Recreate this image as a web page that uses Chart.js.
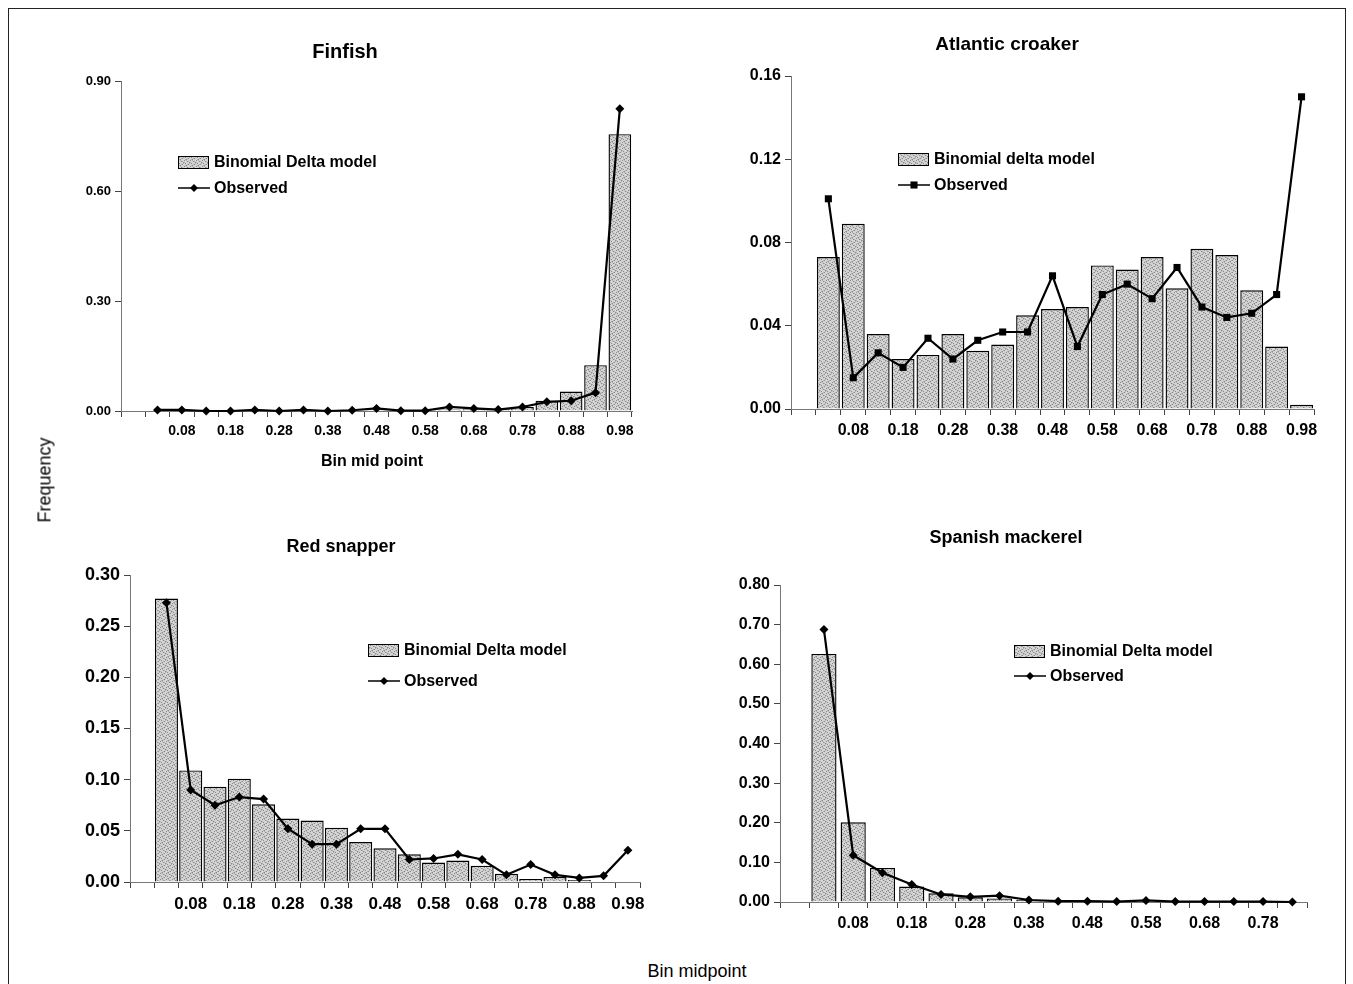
<!DOCTYPE html>
<html>
<head>
<meta charset="utf-8">
<title>Binomial delta model vs observed</title>
<script src="https://cdn.jsdelivr.net/npm/chart.js@4.4.1/dist/chart.umd.min.js"></script>
<style>
  body { margin: 0; background: #fff; }
  #page { position: relative; width: 1353px; height: 984px; overflow: hidden; background: #fff;
          font-family: "Liberation Sans", Arial, sans-serif; }
  #frame { position: absolute; left: 8px; top: 8px; width: 1336px; height: 1000px; border: 1px solid #222; }
  canvas { position: absolute; }
  .lbl { position: absolute; font-size: 18px; color: #000; white-space: nowrap; }
  #ylab { left: 45px; top: 480px; transform: translate(-50%, -50%) rotate(-90deg); }
  #xlab { left: 697px; top: 971px; transform: translate(-50%, -50%); }
</style>
</head>
<body>
<div id="page">
  <div id="frame"></div>
  <canvas id="c1"></canvas>
  <canvas id="c2"></canvas>
  <canvas id="c3"></canvas>
  <canvas id="c4"></canvas>
  <div class="lbl" id="ylab">Frequency</div>
  <div class="lbl" id="xlab">Bin midpoint</div>
</div>
<script>
// bin mid points (20 bins, the mackerel panel only goes to 0.83)
const bins = ["0.03", "0.08", "0.13", "0.18", "0.23", "0.28", "0.33", "0.38", "0.43", "0.48",
              "0.53", "0.58", "0.63", "0.68", "0.73", "0.78", "0.83", "0.88", "0.93", "0.98"];
const mackerelBins = bins.slice(0, 17);
const tickLabels = ["0.08", "0.18", "0.28", "0.38", "0.48", "0.58", "0.68", "0.78", "0.88", "0.98"];
const mackerelTickLabels = ["0.08", "0.18", "0.28", "0.38", "0.48", "0.58", "0.68", "0.78"];

// Finfish
const finfishModel = [0, 0, 0, 0, 0, 0, 0, 0, 0.001, 0.002,
                      0.001, 0.002, 0.004, 0.005, 0.005, 0.011, 0.028, 0.053, 0.125, 0.755];
const finfishObserved = [0.003, 0.003, 0.000, 0.000, 0.003, 0.000, 0.003, 0.000, 0.002, 0.007,
                         0.001, 0.001, 0.011, 0.007, 0.004, 0.011, 0.025, 0.028, 0.050, 0.824];

// Atlantic croaker
const croakerModel = [0.073, 0.089, 0.036, 0.024, 0.026, 0.036, 0.028, 0.031, 0.045, 0.048,
                      0.049, 0.069, 0.067, 0.073, 0.058, 0.077, 0.074, 0.057, 0.030, 0.002];
const croakerObserved = [0.101, 0.015, 0.027, 0.020, 0.034, 0.024, 0.033, 0.037, 0.037, 0.064,
                         0.030, 0.055, 0.060, 0.053, 0.068, 0.049, 0.044, 0.046, 0.055, 0.150];

// Red snapper
const snapperModel = [0.277, 0.109, 0.093, 0.101, 0.076, 0.062, 0.060, 0.053, 0.039, 0.033,
                      0.027, 0.019, 0.021, 0.016, 0.008, 0.003, 0.005, 0.002, 0, 0];
const snapperObserved = [0.273, 0.090, 0.075, 0.083, 0.081, 0.052, 0.037, 0.037, 0.052, 0.052,
                         0.022, 0.023, 0.027, 0.022, 0.007, 0.017, 0.007, 0.004, 0.006, 0.031];

// Spanish mackerel
const mackerelModel = [0.626, 0.201, 0.086, 0.039, 0.022, 0.012, 0.009, 0.005, 0.002, 0.001,
                       0.001, 0.003, 0.001, 0.001, 0.001, 0.001, 0];
const mackerelObserved = [0.688, 0.118, 0.074, 0.044, 0.019, 0.013, 0.016, 0.005, 0.002, 0.002,
                          0.001, 0.004, 0.001, 0.001, 0.001, 0.001, 0];

const FONT = '"Liberation Sans", Arial, sans-serif';

// grey stippled fill like the scanned bars
function stipple() {
  const c = document.createElement("canvas");
  c.width = 6; c.height = 6;
  const g = c.getContext("2d");
  g.fillStyle = "#d4d4d4";
  g.fillRect(0, 0, 6, 6);
  g.fillStyle = "#8a8a8a";
  [[0, 0], [3, 1], [1, 3], [4, 4], [2, 5], [5, 2]].forEach(p => g.fillRect(p[0], p[1], 1, 1));
  g.fillStyle = "#b0b0b0";
  [[2, 0], [5, 3], [0, 2], [3, 4], [1, 5], [4, 1]].forEach(p => g.fillRect(p[0], p[1], 1, 1));
  return g.createPattern(c, "repeat");
}
const barFill = stipple();

function drawMarker(ctx, style, x, y, r) {
  ctx.beginPath();
  if (style === "rect") {
    const s = r * Math.SQRT1_2;
    ctx.rect(x - s, y - s, 2 * s, 2 * s);
  } else {
    ctx.moveTo(x, y - r); ctx.lineTo(x + r, y); ctx.lineTo(x, y + r); ctx.lineTo(x - r, y);
    ctx.closePath();
  }
  ctx.fill();
}

// titles, legends and axis title, drawn at fixed places
const decor = {
  id: "decor",
  afterDraw(chart, args, o) {
    const ctx = chart.ctx;
    ctx.save();
    ctx.fillStyle = "#000";
    ctx.textBaseline = "middle";
    ctx.textAlign = "center";
    ctx.font = `bold ${o.titleSize}px ${FONT}`;
    ctx.fillText(o.title, o.titleX, o.titleY);
    if (o.xTitle) {
      ctx.font = `bold 16px ${FONT}`;
      ctx.fillText(o.xTitle, o.xTitleX, o.xTitleY);
    }
    // legend
    const lx = o.legX;
    ctx.fillStyle = barFill;
    ctx.fillRect(lx, o.legY1 - 6, 30, 12);
    ctx.strokeStyle = "#000";
    ctx.lineWidth = 1;
    ctx.strokeRect(lx + 0.5, o.legY1 - 5.5, 30, 12);
    ctx.lineWidth = 1.5;
    ctx.beginPath();
    ctx.moveTo(lx, o.legY2);
    ctx.lineTo(lx + 32, o.legY2);
    ctx.stroke();
    ctx.fillStyle = "#000";
    drawMarker(ctx, o.marker, lx + 16, o.legY2, o.marker === "rect" ? 5 : 4);
    ctx.textAlign = "left";
    ctx.font = `bold 16px ${FONT}`;
    ctx.fillText(o.barLabel, lx + 36, o.legY1 + 1);
    ctx.fillText("Observed", lx + 36, o.legY2 + 1);
    ctx.restore();
  }
};

function makePanel(p) {
  const cv = document.getElementById(p.id);
  const [cx, cy, cw, ch] = p.box;
  const [ax1, ay1, ax2, ay2] = p.area;
  cv.width = cw; cv.height = ch;
  cv.style.left = cx + "px"; cv.style.top = cy + "px";
  return new Chart(cv, {
    data: {
      labels: ["", ...p.bins],
      datasets: [
        {
          type: "line", label: "Observed", data: [null, ...p.observed], order: 0,
          borderColor: "#000", borderWidth: 2.2, tension: 0, clip: false,
          pointStyle: p.marker, pointRadius: p.marker === "rect" ? 5 : 4.5,
          pointBackgroundColor: "#000", pointBorderColor: "#000", pointBorderWidth: 0
        },
        {
          type: "bar", label: p.barLabel, data: [null, ...p.model], order: 1,
          backgroundColor: barFill, borderColor: "#000", borderWidth: 1.4,
          barPercentage: p.barPct, categoryPercentage: 1
        }
      ]
    },
    options: {
      responsive: false,
      animation: false,
      layout: { padding: { left: 0, top: ay1 - cy, right: cx + cw - ax2, bottom: 0 } },
      plugins: {
        legend: { display: false },
        tooltip: { enabled: false },
        decor: {
          title: p.title, titleSize: p.titleSize, titleX: p.titleAt[0] - cx, titleY: p.titleAt[1] - cy,
          legX: p.legend[0] - cx, legY1: p.legend[1] - cy, legY2: p.legend[2] - cy,
          barLabel: p.barLabel, marker: p.marker,
          xTitle: p.xTitle, xTitleX: p.xTitle ? p.xTitleAt[0] - cx : 0, xTitleY: p.xTitle ? p.xTitleAt[1] - cy : 0
        }
      },
      scales: {
        x: {
          type: "category",
          offset: true,
          grid: { offset: true, drawOnChartArea: false, drawTicks: true, tickLength: 6, color: "#444" },
          border: { display: true, color: "#777", width: 1 },
          ticks: {
            autoSkip: false, maxRotation: 0, minRotation: 0, padding: 6, color: "#000",
            font: { family: FONT, size: p.xFont, weight: "bold" },
            callback(v) {
              const l = this.getLabelForValue(v);
              return p.ticks.includes(l) ? l : "";
            }
          },
          afterFit(s) { s.height = cy + ch - ay2; }
        },
        y: {
          min: 0, max: p.yMax,
          grid: { drawOnChartArea: false, drawTicks: true, tickLength: 6, color: "#444" },
          border: { display: true, color: "#777", width: 1 },
          ticks: {
            stepSize: p.yStep, padding: 4, color: "#000",
            font: { family: FONT, size: p.yFont, weight: "bold" },
            callback: v => v.toFixed(2)
          },
          afterFit(s) { s.width = ax1 - cx; }
        }
      }
    },
    plugins: [decor]
  });
}

makePanel({
  id: "c1", box: [10, 10, 660, 480], area: [121, 81, 632, 411],
  bins: bins, ticks: tickLabels, model: finfishModel, observed: finfishObserved,
  yMax: 0.9, yStep: 0.3, yFont: 13, xFont: 14, barPct: 0.93, marker: "rectRot",
  title: "Finfish", titleSize: 20, titleAt: [345, 52],
  barLabel: "Binomial Delta model", legend: [178, 162, 188],
  xTitle: "Bin mid point", xTitleAt: [372, 462]
});

makePanel({
  id: "c2", box: [676, 10, 667, 480], area: [791, 76, 1314, 409],
  bins: bins, ticks: tickLabels, model: croakerModel, observed: croakerObserved,
  yMax: 0.16, yStep: 0.04, yFont: 16, xFont: 16, barPct: 0.92, marker: "rect",
  title: "Atlantic croaker", titleSize: 19, titleAt: [1007, 45],
  barLabel: "Binomial delta model", legend: [898, 159, 185]
});

makePanel({
  id: "c3", box: [10, 495, 660, 460], area: [130, 575, 640, 882],
  bins: bins, ticks: tickLabels, model: snapperModel, observed: snapperObserved,
  yMax: 0.3, yStep: 0.05, yFont: 18, xFont: 17, barPct: 0.95, marker: "rectRot",
  title: "Red snapper", titleSize: 18, titleAt: [341, 547],
  barLabel: "Binomial Delta model", legend: [368, 650, 681]
});

makePanel({
  id: "c4", box: [676, 495, 667, 460], area: [780, 585, 1307, 902],
  bins: mackerelBins, ticks: mackerelTickLabels, model: mackerelModel, observed: mackerelObserved,
  yMax: 0.8, yStep: 0.1, yFont: 16, xFont: 16, barPct: 0.86, marker: "rectRot",
  title: "Spanish mackerel", titleSize: 18, titleAt: [1006, 538],
  barLabel: "Binomial Delta model", legend: [1014, 651, 676]
});
</script>
</body>
</html>
